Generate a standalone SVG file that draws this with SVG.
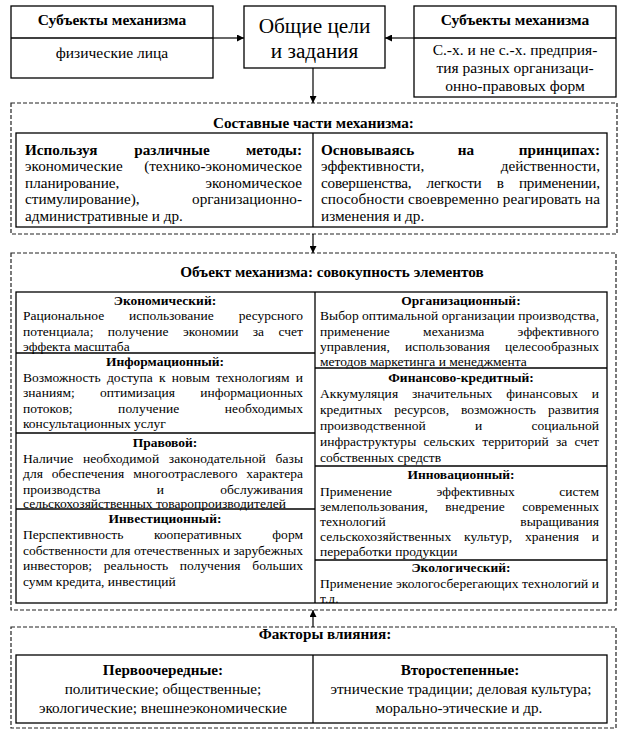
<svg xmlns="http://www.w3.org/2000/svg" width="624" height="735" viewBox="0 0 624 735">
<style>
text{font-family:'Liberation Serif','Times New Roman',serif;fill:#000}
.bx{fill:none;stroke:#000;stroke-width:1.3}
.ds{fill:none;stroke:#222;stroke-width:1.2;stroke-dasharray:4 2}
.ln{fill:none;stroke:#000;stroke-width:1.3}
.cn{fill:none;stroke:#000;stroke-width:1.2}
.t{font-size:15.5px}
.m{font-size:15.2px}
.s{font-size:13.5px}
.bd{font-weight:bold}
.c{text-anchor:middle}
.e{text-anchor:end}
.big{font-size:21.3px}
</style>
<defs>
<marker id="ah" viewBox="0 0 10 10" refX="10" refY="5" markerWidth="8" markerHeight="7" markerUnits="userSpaceOnUse" orient="auto">
<path d="M0,0 L10,5 L0,10 Z" fill="#000"/>
</marker>
<clipPath id="gridclip"><rect x="16" y="292" width="591" height="311"/></clipPath>
</defs>

<g id="subj-left">
<rect class="bx" x="11" y="6" width="202" height="72"/>
<line class="ln" x1="11" y1="38" x2="213" y2="38"/>
<text class="t bd c" x="112" y="25">Субъекты механизма</text>
<text class="t c" x="112" y="58">физические лица</text>
</g>

<g id="goals">
<rect class="bx" x="244" y="6" width="141" height="62"/>
<text class="big c" x="314.5" y="33">Общие цели</text>
<text class="big c" x="314.5" y="58">и задания</text>
</g>

<g id="subj-right">
<rect class="bx" x="414" y="6" width="202" height="91"/>
<line class="ln" x1="414" y1="38" x2="616" y2="38"/>
<text class="t bd c" x="515" y="25">Субъекты механизма</text>
<text class="t c" x="515" y="55">С.-х. и не с.-х. предприя-</text>
<text class="t c" x="515" y="73">тия разных организаци-</text>
<text class="t c" x="515" y="91">онно-правовых форм</text>
</g>

<g id="components">
<rect class="ds" x="11" y="103" width="606" height="131"/>
<text class="m bd c" x="313.5" y="128">Составные части механизма:</text>
<rect class="bx" x="16" y="133" width="591" height="94"/>
<line class="ln" x1="313" y1="133" x2="313" y2="227"/>
<text class="m bd" x="25" y="154.5">Используя</text>
<text class="m bd c" x="172" y="154.5">различные</text>
<text class="m bd e" x="302" y="154.5">методы:</text>
<text class="m" x="25" y="171">экономические</text>
<text class="m e" x="302" y="171">(технико-экономическое</text>
<text class="m" x="25" y="187.5">планирование,</text>
<text class="m e" x="302" y="187.5">экономическое</text>
<text class="m" x="25" y="204">стимулирование),</text>
<text class="m e" x="302" y="204">организационно-</text>
<text class="m" x="25" y="220.5">административные и др.</text>

<text class="m bd" x="321" y="154.5">Основываясь</text>
<text class="m bd c" x="466" y="154.5">на</text>
<text class="m bd e" x="600" y="154.5">принципах:</text>
<text class="m" x="321" y="171">эффективности,</text>
<text class="m e" x="600" y="171">действенности,</text>
<text class="m" x="321" y="187.5" word-spacing="11.7" textLength="279" lengthAdjust="spacing">совершенства, легкости в применении,</text>
<text class="m" x="321" y="204" textLength="279" lengthAdjust="spacing">способности своевременно реагировать на</text>
<text class="m" x="321" y="220.5">изменения и др.</text>
</g>

<g id="object">
<rect class="ds" x="11" y="253" width="605" height="357"/>
<text class="m bd c" x="332" y="277">Объект механизма: совокупность элементов</text>
<rect class="bx" x="16" y="292" width="591" height="311"/>
<line class="ln" x1="315" y1="292" x2="315" y2="603"/>
<line class="ln" x1="16" y1="353" x2="315" y2="353"/>
<line class="ln" x1="16" y1="433" x2="315" y2="433"/>
<line class="ln" x1="16" y1="509" x2="315" y2="509"/>
<line class="ln" x1="315" y1="368" x2="607" y2="368"/>
<line class="ln" x1="315" y1="466" x2="607" y2="466"/>
<line class="ln" x1="315" y1="560" x2="607" y2="560"/>

<g clip-path="url(#gridclip)">
<text class="s bd c" x="165" y="305">Экономический:</text>
<text class="s" x="23" y="320" word-spacing="21.5" textLength="280" lengthAdjust="spacing">Рациональное использование ресурсного</text>
<text class="s" x="23" y="335.5" word-spacing="10.9" textLength="280" lengthAdjust="spacing">потенциала; получение экономии за счет</text>
<text class="s" x="23" y="351">эффекта масштаба</text>

<text class="s bd c" x="165" y="366">Информационный:</text>
<text class="s" x="23" y="381.5" word-spacing="2.9" textLength="280" lengthAdjust="spacing">Возможность доступа к новым технологиям и</text>
<text class="s" x="23" y="397" word-spacing="21.8" textLength="280" lengthAdjust="spacing">знаниям; оптимизация информационных</text>
<text class="s" x="23" y="412.5" word-spacing="41.9" textLength="280" lengthAdjust="spacing">потоков; получение необходимых</text>
<text class="s" x="23" y="428">консультационных услуг</text>

<text class="s bd c" x="165" y="447">Правовой:</text>
<text class="s" x="23" y="462.5" word-spacing="6.2" textLength="280" lengthAdjust="spacing">Наличие необходимой законодательной базы</text>
<text class="s" x="23" y="478" word-spacing="5.4" textLength="280" lengthAdjust="spacing">для обеспечения многоотраслевого характера</text>
<text class="s" x="23" y="493.5" word-spacing="52.8" textLength="280" lengthAdjust="spacing">производства и обслуживания</text>
<text class="s" x="23" y="508">сельскохозяйственных товаропроизводителей</text>

<text class="s bd c" x="165" y="523">Инвестиционный:</text>
<text class="s" x="23" y="539" word-spacing="27.1" textLength="280" lengthAdjust="spacing">Перспективность кооперативных форм</text>
<text class="s" x="23" y="554.5" textLength="280" lengthAdjust="spacing">собственности для отечественных и зарубежных</text>
<text class="s" x="23" y="570" word-spacing="8.4" textLength="280" lengthAdjust="spacing">инвесторов; реальность получения больших</text>
<text class="s" x="23" y="585.5">сумм кредита, инвестиций</text>

<text class="s bd c" x="461" y="305">Организационный:</text>
<text class="s" x="320" y="320" textLength="279" lengthAdjust="spacing">Выбор оптимальной организации производства,</text>
<text class="s" x="320" y="335.5" word-spacing="29.8" textLength="279" lengthAdjust="spacing">применение механизма эффективного</text>
<text class="s" x="320" y="351" word-spacing="11.6" textLength="279" lengthAdjust="spacing">управления, использования целесообразных</text>
<text class="s" x="320" y="366">методов маркетинга и менеджмента</text>

<text class="s bd c" x="461" y="382">Финансово-кредитный:</text>
<text class="s" x="320" y="398" word-spacing="10.3" textLength="279" lengthAdjust="spacing">Аккумуляция значительных финансовых и</text>
<text class="s" x="320" y="414" word-spacing="8.5" textLength="279" lengthAdjust="spacing">кредитных ресурсов, возможность развития</text>
<text class="s" x="320" y="430" word-spacing="45.9" textLength="279" lengthAdjust="spacing">производственной и социальной</text>
<text class="s" x="320" y="446" word-spacing="3.8" textLength="279" lengthAdjust="spacing">инфраструктуры сельских территорий за счет</text>
<text class="s" x="320" y="462">собственных средств</text>

<text class="s bd c" x="461" y="479">Инновационный:</text>
<text class="s" x="320" y="496" word-spacing="41.2" textLength="279" lengthAdjust="spacing">Применение эффективных систем</text>
<text class="s" x="320" y="511" word-spacing="13.9" textLength="279" lengthAdjust="spacing">землепользования, внедрение современных</text>
<text class="s" x="320" y="526">технологий</text>
<text class="s e" x="599" y="526">выращивания</text>
<text class="s" x="320" y="541" word-spacing="9.3" textLength="279" lengthAdjust="spacing">сельскохозяйственных культур, хранения и</text>
<text class="s" x="320" y="556">переработки продукции</text>

<text class="s bd c" x="461" y="572">Экологический:</text>
<text class="s" x="320" y="588" textLength="279" lengthAdjust="spacing">Применение экологосберегающих технологий и</text>
<text class="s" x="320" y="603">т.д.</text>
</g>
</g>

<g id="factors">
<rect class="ds" x="11" y="627" width="605" height="101"/>
<text class="m bd c" x="325" y="639">Факторы влияния:</text>
<rect class="bx" x="16" y="655" width="591" height="68"/>
<line class="ln" x1="313" y1="655" x2="313" y2="723"/>
<text class="m bd c" x="163" y="675">Первоочередные:</text>
<text class="m c" x="163" y="694">политические; общественные;</text>
<text class="m c" x="163" y="713">экологические; внешнеэкономические</text>
<text class="m bd c" x="460" y="675">Второстепенные:</text>
<text class="m c" x="461" y="694">этнические традиции; деловая культура;</text>
<text class="m c" x="459" y="713">морально-этические и др.</text>
</g>

<g id="connectors">
<line class="cn" x1="213" y1="38" x2="244" y2="38" marker-end="url(#ah)"/>
<line class="cn" x1="414" y1="38" x2="385" y2="38" marker-end="url(#ah)"/>
<line class="cn" x1="313" y1="68" x2="313" y2="103" marker-end="url(#ah)"/>
<line class="cn" x1="313" y1="234" x2="313" y2="253" marker-end="url(#ah)"/>
<line class="cn" x1="313" y1="627" x2="313" y2="610" marker-end="url(#ah)"/>
</g>
</svg>
